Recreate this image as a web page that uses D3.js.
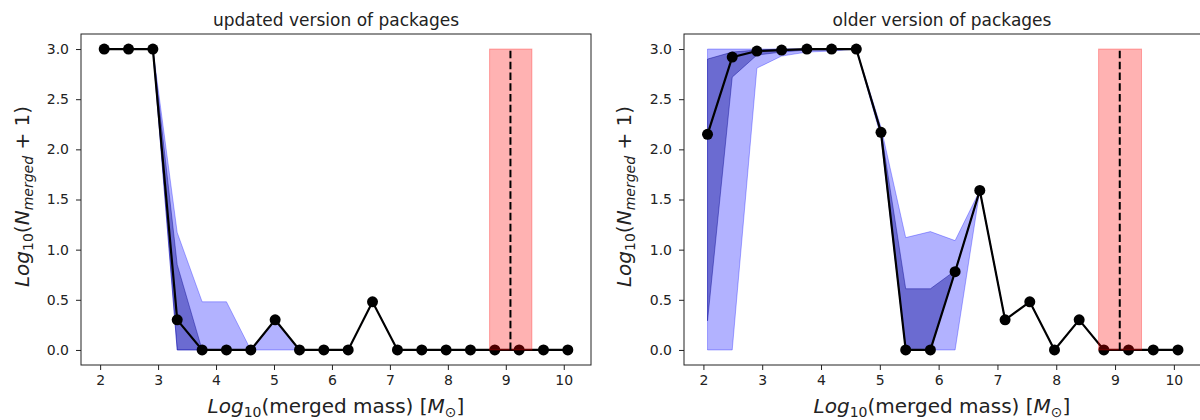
<!DOCTYPE html>
<html>
<head>
<meta charset="utf-8">
<script src="https://cdn.jsdelivr.net/npm/d3@7"></script>
<style>
  body { margin: 0; background: #fff; }
  svg { display: block; font-family: "DejaVu Sans", sans-serif; }
</style>
</head>
<body>
<svg id="chart" width="1200" height="420"></svg>
<script>
// bin centres of log10(merged mass)
const massBins = [2.07, 2.49, 2.91, 3.33, 3.76, 4.18, 4.60, 5.02, 5.44, 5.86,
                  6.28, 6.70, 7.13, 7.55, 7.97, 8.39, 8.81, 9.23, 9.65, 10.07];
const xTicks = [2, 3, 4, 5, 6, 7, 8, 9, 10];
const yTicks = [0, 0.5, 1.0, 1.5, 2.0, 2.5, 3.0];

// updated version of packages
const updatedMedian  = [3, 3, 3, 0.30, 0, 0, 0, 0.30, 0, 0, 0, 0.48, 0, 0, 0, 0, 0, 0, 0, 0];
const updatedInnerLo = [3, 3, 3, 0,    0, 0, 0, 0.30, 0, 0, 0, 0.48, 0, 0, 0, 0, 0, 0, 0, 0];
const updatedInnerHi = [3, 3, 3, 0.85, 0, 0, 0, 0.30, 0, 0, 0, 0.48, 0, 0, 0, 0, 0, 0, 0, 0];
const updatedOuterLo = [3, 3, 3, 0,    0, 0, 0, 0,    0, 0, 0, 0.48, 0, 0, 0, 0, 0, 0, 0, 0];
const updatedOuterHi = [3, 3, 3, 1.17, 0.48, 0.48, 0, 0.30, 0, 0, 0, 0.48, 0, 0, 0, 0, 0, 0, 0, 0];

// older version of packages
const olderMedian  = [2.15, 2.92, 2.98, 2.99, 3.00, 3.00, 3, 2.17, 0,    0,    0.78, 1.59, 0.30, 0.48, 0, 0.30, 0, 0, 0, 0];
const olderInnerLo = [0.29, 2.72, 2.94, 2.97, 2.99, 2.99, 3, 2.15, 0,    0,    0.78, 1.59, 0.30, 0.48, 0, 0.30, 0, 0, 0, 0];
const olderInnerHi = [2.90, 2.97, 2.99, 3.00, 3.00, 3.00, 3, 2.19, 0.61, 0.61, 0.79, 1.59, 0.30, 0.48, 0, 0.30, 0, 0, 0, 0];
const olderOuterLo = [0,    0,    2.81, 2.93, 2.97, 2.98, 3, 2.12, 0,    0,    0,    1.59, 0.30, 0.48, 0, 0.30, 0, 0, 0, 0];
const olderOuterHi = [3,    3,    3,    3,    3,    3,    3, 2.22, 1.12, 1.18, 1.09, 1.59, 0.30, 0.48, 0, 0.30, 0, 0, 0, 0];

// target mass range and value
const targetRange = [8.72, 9.45];
const targetSpanY = [0, 3];
const targetMass = 9.08;

const svg = d3.select("#chart");

function rows(med, ilo, ihi, olo, ohi) {
    return massBins.map((x, i) => ({x: x, y: med[i], ilo: ilo[i], ihi: ihi[i], olo: olo[i], ohi: ohi[i]}));
}

function mathText(sel, parts, size) {
    parts.forEach(p => {
        let t = sel.append("tspan").text(p.t);
        if (p.i) t.attr("font-style", "italic");
        if (p.sub) {
            t.attr("font-size", size * 0.7).attr("dy", size * 0.22);
        } else if (p.after) {
            t.attr("dy", -size * 0.22);
        }
    });
}

const yLabelParts = [
    {t: "Log", i: true}, {t: "10", sub: true}, {t: "(", after: true}, {t: "N", i: true},
    {t: "merged", i: true, sub: true}, {t: " + 1)", after: true}
];
const xLabelParts = [
    {t: "Log", i: true}, {t: "10", sub: true}, {t: "(merged mass) [", after: true},
    {t: "M", i: true}, {t: "\u2299", sub: true}, {t: "]", after: true}
];

function drawPanel(opt) {
    const w = opt.right - opt.left, h = 331;
    const g = svg.append("g").attr("transform", `translate(${opt.left},34)`);

    const x = d3.scaleLinear().domain([1.67, 10.47]).range([0, w]);
    const y = d3.scaleLinear().domain([-0.15, 3.15]).range([h, 0]);

    const data = opt.data;

    // outer band
    g.append("path").datum(data)
        .attr("fill", "blue").attr("fill-opacity", 0.3)
        .attr("stroke", "blue").attr("stroke-opacity", 0.3).attr("stroke-width", 1)
        .attr("d", d3.area().x(d => x(d.x)).y0(d => y(d.olo)).y1(d => y(d.ohi)));
    // inner band
    g.append("path").datum(data)
        .attr("fill", "#00008b").attr("fill-opacity", 0.4)
        .attr("stroke", "#00008b").attr("stroke-opacity", 0.4).attr("stroke-width", 1)
        .attr("d", d3.area().x(d => x(d.x)).y0(d => y(d.ilo)).y1(d => y(d.ihi)));

    g.append("path").datum(data)
        .attr("fill", "none").attr("stroke", "#000").attr("stroke-width", 2.2)
        .attr("d", d3.line().x(d => x(d.x)).y(d => y(d.y)));

    g.selectAll("circle.pt").data(data).enter().append("circle")
        .attr("class", "pt")
        .attr("cx", d => x(d.x)).attr("cy", d => y(d.y)).attr("r", 5.5)
        .attr("fill", "#000");

    // target range
    g.append("rect")
        .attr("x", x(targetRange[0])).attr("width", x(targetRange[1]) - x(targetRange[0]))
        .attr("y", y(targetSpanY[1])).attr("height", y(targetSpanY[0]) - y(targetSpanY[1]))
        .attr("fill", "red").attr("fill-opacity", 0.3)
        .attr("stroke", "red").attr("stroke-opacity", 0.3).attr("stroke-width", 1);

    g.append("line")
        .attr("x1", x(targetMass)).attr("x2", x(targetMass))
        .attr("y1", y(targetSpanY[0])).attr("y2", y(targetSpanY[1]))
        .attr("stroke", "#000").attr("stroke-width", 2).attr("stroke-dasharray", "7.5,3.3");

    // axes
    const xa = g.append("g").attr("transform", `translate(0,${h})`)
        .call(d3.axisBottom(x).tickValues(xTicks).tickFormat(d3.format("d")).tickSizeOuter(0).tickSize(5).tickPadding(5));
    const ya = g.append("g")
        .call(d3.axisLeft(y).tickValues(yTicks).tickFormat(d3.format(".1f")).tickSizeOuter(0).tickSize(5).tickPadding(7));
    [xa, ya].forEach(a => {
        a.select(".domain").remove();
        a.selectAll("text").attr("font-size", 14).attr("fill", "#222").attr("font-family", "DejaVu Sans");
        a.selectAll("line").attr("stroke", "#222");
    });

    g.append("rect").attr("width", w).attr("height", h)
        .attr("fill", "none").attr("stroke", "#222").attr("stroke-width", 1);

    // title
    g.append("text").attr("x", opt.xLabelCenter - opt.left).attr("y", -8).attr("text-anchor", "middle")
        .attr("font-size", 17).attr("fill", "#222").text(opt.title);

    // x label
    const xl = g.append("text")
        .attr("x", opt.xLabelCenter - opt.left)
        .attr("y", 379).attr("text-anchor", "middle")
        .attr("font-size", 20).attr("fill", "#222");
    mathText(xl, xLabelParts, 20);

    const yl = g.append("text")
        .attr("transform", `translate(${opt.yLabelX - opt.left},${h / 2 - 3}) rotate(-90)`)
        .attr("text-anchor", "middle").attr("font-size", 20).attr("fill", "#222");
    mathText(yl, yLabelParts, 20);
}

drawPanel({
    left: 81, right: 591, title: "updated version of packages",
    data: rows(updatedMedian, updatedInnerLo, updatedInnerHi, updatedOuterLo, updatedOuterHi),
    xLabelCenter: 336, yLabelX: 29
});
drawPanel({
    left: 684, right: 1201.5, title: "older version of packages",
    data: rows(olderMedian, olderInnerLo, olderInnerHi, olderOuterLo, olderOuterHi),
    xLabelCenter: 942, yLabelX: 631
});
</script>
</body>
</html>
